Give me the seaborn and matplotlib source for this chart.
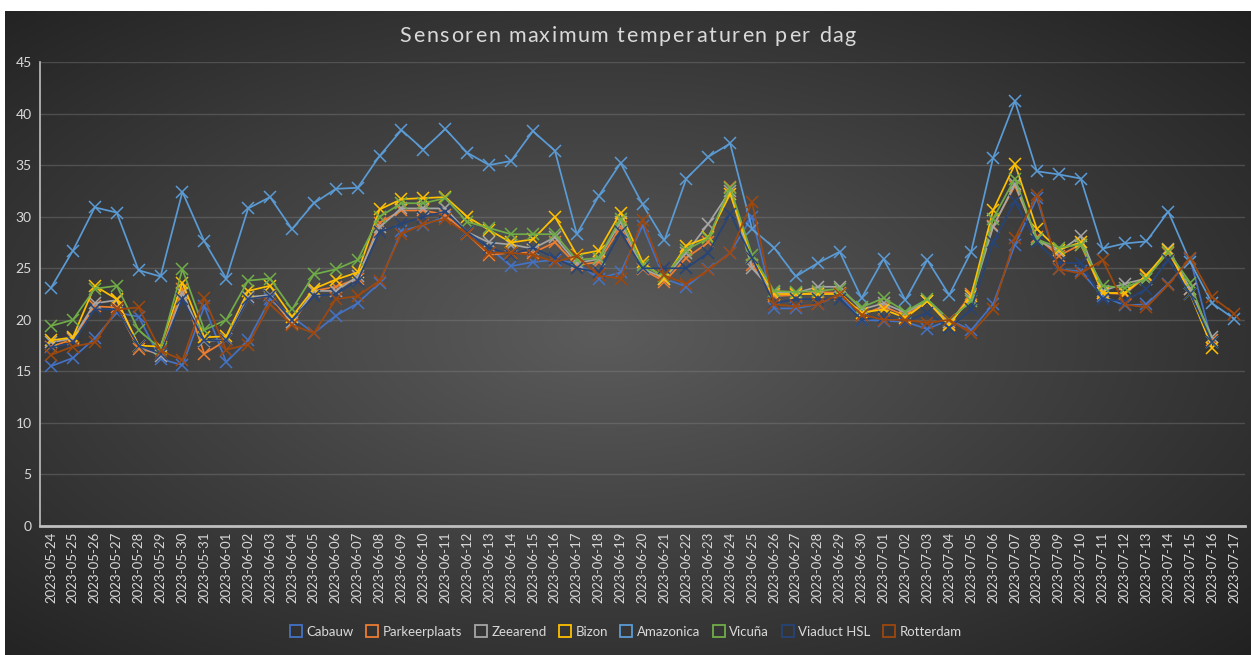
import numpy as np
import pandas as pd
import matplotlib
matplotlib.use("Agg")
import matplotlib.pyplot as plt
from matplotlib.lines import Line2D
from matplotlib.textpath import TextPath
from matplotlib.font_manager import FontProperties
import seaborn as sns

dates = pd.date_range("2023-05-24", "2023-07-17").strftime("%Y-%m-%d").tolist()
nan = np.nan

cabauw = [15.5, 16.3, 18.2, 20.7, 20.3, 16.2, 15.6, 21.3, 15.9, 18.0, 22.0, 20.3, 18.7, 20.4, 21.6,
          23.6, 28.6, 29.2, 30.0, 28.5, 27.0, 25.2, 25.6, 25.8, 25.5, 24.0, 24.6, 29.1, 24.0, 23.2,
          24.9, 26.5, 30.0, 21.1, 21.1, 21.5, 22.4, 20.0, 19.9, 19.8, 19.1, 20.0, 19.0, 21.5, 27.3,
          31.8, 24.9, 24.7, 22.3, 21.4, 21.5, 23.5, 25.9, 17.8, nan]
parkeerplaats = [17.4, 18.1, 21.3, 21.2, 17.2, 16.7, 23.0, 16.7, 18.0, 22.0, 22.3, 19.6, 22.8, 23.2, 24.0,
                 29.4, 30.6, 30.6, 30.2, 28.3, 26.3, 26.5, 26.5, 27.5, 25.3, 25.6, 29.0, 24.9, 23.7, 26.0,
                 27.5, 32.9, 25.3, 22.3, 22.4, 22.7, 22.6, 20.5, 21.3, 20.4, 21.8, 19.6, 22.5, 29.1, 33.0,
                 28.0, 26.2, 27.3, 22.6, 22.5, 24.2, 26.5, 23.0, 18.0, nan]
zeearend = [17.8, 18.2, 21.6, 21.9, 17.5, 16.5, 22.6, 17.9, 18.1, 22.2, 22.4, 19.8, 22.8, 22.8, 24.2,
            29.0, 30.8, 30.8, 30.8, 28.5, 27.5, 27.3, 26.9, 28.0, 25.5, 25.9, 29.5, 25.0, 24.0, 26.5,
            29.3, 32.5, 25.0, 22.7, 22.6, 23.2, 23.2, 21.0, 21.6, 20.7, 21.8, 19.8, 22.0, 29.0, 33.2,
            27.8, 26.6, 28.1, 22.8, 23.5, 24.0, 26.9, 23.0, 18.3, nan]
bizon = [18.0, 18.3, 23.3, 22.0, 17.5, 17.4, 23.6, 18.3, 18.4, 22.8, 23.3, 20.3, 23.0, 23.9, 24.6,
         30.7, 31.7, 31.8, 31.9, 30.0, 28.7, 27.5, 27.8, 30.0, 26.3, 26.7, 30.4, 25.6, 24.0, 27.2,
         28.0, 32.2, 26.0, 22.5, 22.5, 22.5, 22.5, 20.7, 21.0, 20.2, 21.8, 19.5, 22.3, 30.6, 35.1,
         28.8, 26.8, 27.5, 22.6, 22.6, 24.3, 26.8, 22.5, 17.3, nan]
amazonica = [23.1, 26.7, 30.9, 30.4, 24.8, 24.2, 32.4, 27.6, 24.0, 30.8, 31.9, 28.8, 31.3, 32.7, 32.8,
             35.9, 38.4, 36.5, 38.5, 36.2, 35.0, 35.4, 38.3, 36.4, 28.3, 32.0, 35.2, 31.2, 27.7, 33.7,
             35.8, 37.1, 28.8, 27.0, 24.2, 25.5, 26.6, 22.1, 25.9, 21.9, 25.8, 22.4, 26.6, 35.7, 41.2,
             34.4, 34.1, 33.7, 26.9, 27.4, 27.6, 30.5, 25.6, 21.6, 20.1]
vicuna = [19.4, 20.0, 23.0, 23.3, 19.0, 17.2, 24.9, 19.0, 20.0, 23.8, 24.0, 21.0, 24.4, 24.9, 25.8,
          30.0, 31.3, 31.3, 31.8, 29.5, 28.9, 28.3, 28.3, 28.3, 25.8, 26.0, 29.8, 25.3, 24.2, 26.8,
          27.9, 32.8, 26.3, 22.8, 22.7, 22.8, 23.0, 21.2, 22.1, 20.8, 22.0, 20.0, 21.8, 29.8, 33.7,
          27.8, 27.0, 27.3, 23.3, 23.1, 24.0, 26.6, 23.6, 17.8, nan]
viaduct = [17.3, 17.8, 21.0, 21.0, 17.5, 16.7, 22.0, 18.0, 18.0, 22.0, 22.3, 20.0, 22.3, 22.5, 23.8,
           28.5, 29.3, 30.0, 30.5, 28.5, 27.0, 26.3, 27.0, 26.0, 25.0, 24.6, 28.5, 25.0, 25.0, 25.0,
           26.5, 30.3, 26.0, 21.6, 22.0, 22.0, 22.0, 20.0, 20.3, 19.8, 20.7, 19.2, 21.0, 27.5, 31.5,
           27.5, 25.5, 25.5, 22.0, 21.8, 23.0, 25.8, 22.5, 17.8, nan]
rotterdam = [16.6, 17.4, 17.8, 21.0, 21.2, 17.0, 16.1, 22.1, 17.1, 17.6, 21.5, 19.5, 18.7, 22.0, 22.3,
             23.8, 28.3, 29.3, 29.8, 28.3, 26.5, 26.5, 26.3, 25.6, 26.2, 24.3, 24.0, 29.7, 24.3, 23.5,
             24.8, 26.5, 31.4, 21.5, 21.3, 21.5, 22.5, 20.5, 20.0, 20.0, 19.7, 20.0, 18.7, 21.0, 27.9,
             32.1, 24.9, 24.5, 25.8, 21.5, 21.2, 23.4, 26.0, 22.2, 20.6]

series_names = ["Cabauw", "Parkeerplaats", "Zeearend", "Bizon", "Amazonica", "Vicuña", "Viaduct HSL", "Rotterdam"]
series_values = [cabauw, parkeerplaats, zeearend, bizon, amazonica, vicuna, viaduct, rotterdam]
colors = ["#4472C4", "#ED7D31", "#A5A5A5", "#FFC000", "#5B9BD5", "#70AD47", "#264478", "#9E480E"]
title = "Sensoren maximum temperaturen per dag"

sns.set_theme(style="dark")
plt.rcParams["font.family"] = ["Lato", "DejaVu Sans"]

W, H = 1251, 655
fig = plt.figure(figsize=(W / 100, H / 100), dpi=100)
fig.patch.set_facecolor("white")

# radial gradient chart background
bg = fig.add_axes([5 / W, 0, (W - 5) / W, (H - 11) / H], zorder=0)
yy, xx = np.mgrid[0:1:400j, 0:1:800j]
r = np.sqrt(((xx - 0.48) / 0.75) ** 2 + ((yy - 0.5) / 0.75) ** 2)
r = np.clip(r, 0, 1)
inner = np.array([0x5c, 0x5c, 0x5c]) / 255
outer = np.array([0x1f, 0x1f, 0x1f]) / 255
img = inner[None, None, :] * (1 - r[..., None]) + outer[None, None, :] * r[..., None]
bg.imshow(img, aspect="auto", extent=[0, 1, 0, 1], interpolation="bilinear")
bg.set_axis_off()

ax = fig.add_axes([40 / W, 1 - 526 / H, 1205 / W, (526 - 62) / H], zorder=1)
ax.patch.set_alpha(0)

x = np.arange(len(dates))
for name, vals, c in zip(series_names, series_values, colors):
    df = pd.DataFrame({"x": x, "y": vals}).dropna()
    sns.lineplot(data=df, x="x", y="y", ax=ax, color=c, marker="x", markersize=9,
                 markeredgewidth=1.1, markeredgecolor=c, linewidth=1.25, legend=False,
                 sort=False, estimator=None)

ax.set_xlim(-0.5, len(dates) - 0.5)
ax.set_ylim(0, 45)
ax.set_yticks(range(0, 46, 5))
ax.set_xticks(x)
ax.set_xticklabels(dates, rotation=90)
ax.set_xlabel("")
ax.set_ylabel("")
ax.grid(axis="y", color="#8a8a8a", alpha=0.35, linewidth=1)
ax.grid(axis="x", visible=False)
ax.tick_params(axis="x", colors="#d9d9d9", labelsize=9.5, length=0, pad=4)
ax.tick_params(axis="y", colors="#d9d9d9", labelsize=10, length=0, pad=6)
for t in ax.get_xticklabels() + ax.get_yticklabels():
    t.set_color("#d9d9d9")
for s in ["top", "right"]:
    ax.spines[s].set_visible(False)
ax.spines["left"].set_color("#bfbfbf")
ax.spines["left"].set_linewidth(1.2)
ax.spines["bottom"].set_color("#bfbfbf")
ax.spines["bottom"].set_linewidth(2)

# letter-spaced title
fp = FontProperties(family=["Lato", "DejaVu Sans"], size=15.5)
spacing = 1.0  # px
px_per_pt = 100 / 72
adv = []
for ch in title:
    if ch == " ":
        adv.append(fp.get_size_in_points() * 0.26 * px_per_pt)
    else:
        ext = TextPath((0, 0), ch, prop=fp).get_extents()
        adv.append((ext.x1 + 1.2) * px_per_pt)
total = sum(adv) + spacing * (len(title) - 1)
xpos = 628 - total / 2
for ch, a in zip(title, adv):
    fig.text(xpos / W, 1 - 36 / H, ch, ha="left", va="center", color="#d9d9d9", fontproperties=fp)
    xpos += a + spacing

handles = [Line2D([], [], marker="s", linestyle="none", markersize=9, markerfacecolor="none",
                  markeredgecolor=c, markeredgewidth=1.3) for c in colors]
fig.legend(handles, series_names, loc="center", bbox_to_anchor=(0.5, 1 - 632 / H), ncol=8,
           frameon=False, fontsize=9.5, labelcolor="#d9d9d9", handletextpad=0.3, columnspacing=0.9,
           handlelength=1.0)

fig.savefig("out.png", dpi=100)
